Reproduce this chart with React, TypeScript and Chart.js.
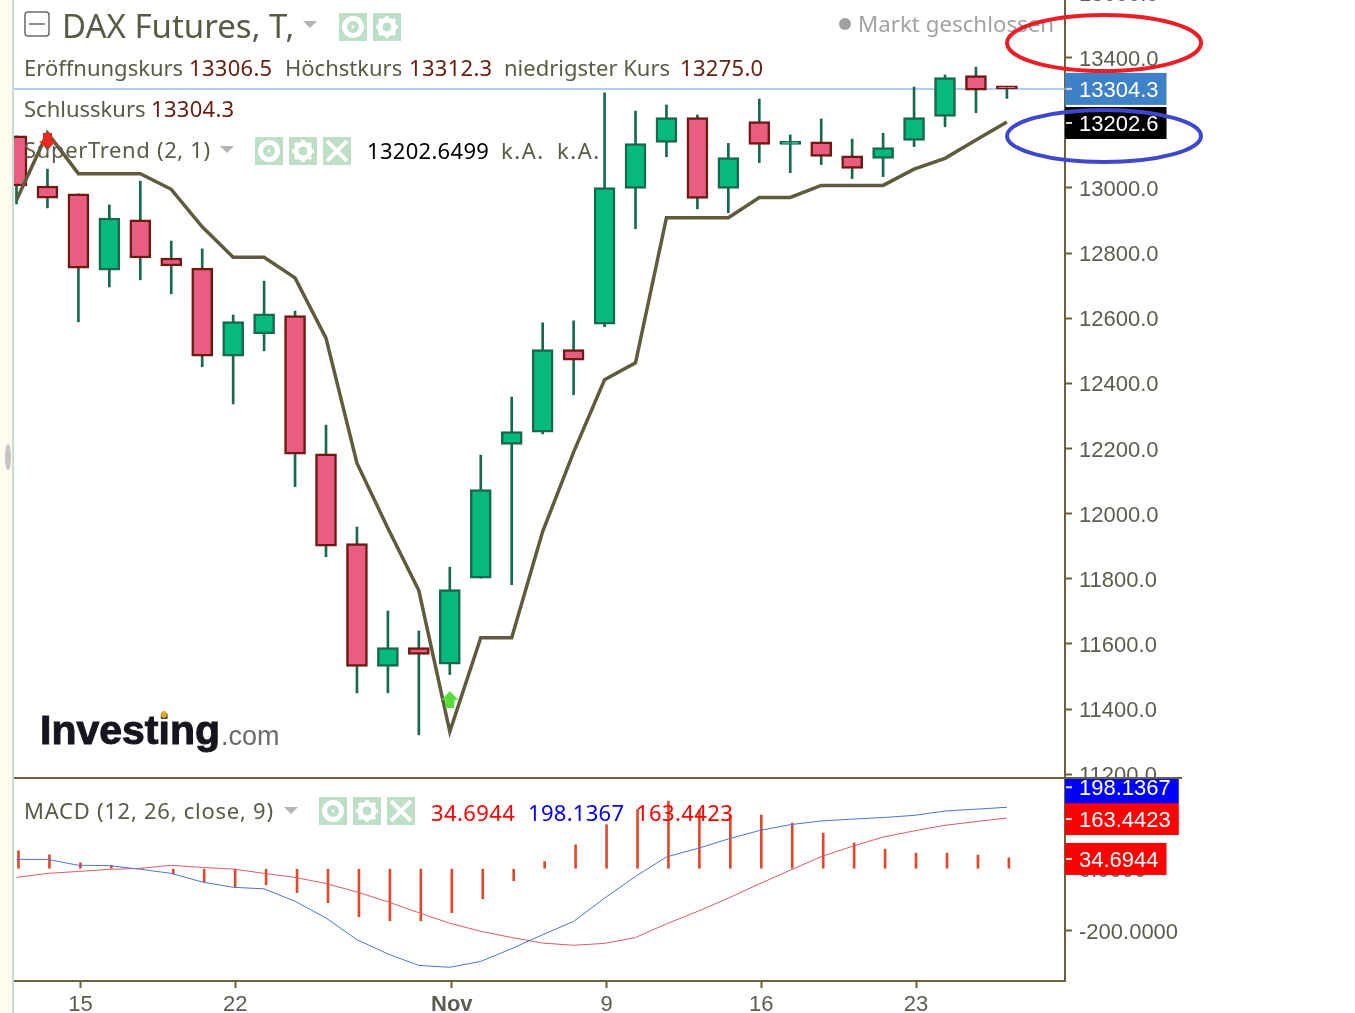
import React, { useEffect, useRef } from "react";
import { Chart, registerables } from "chart.js";

Chart.register(...registerables);

const openPrices = [13160, 13006, 12982, 12748, 12902, 12785, 12754, 12484, 12552, 12608, 12184, 11908, 11531, 11589, 11538, 11802, 12213, 12250, 12504, 12582, 12999, 13140, 13216, 12999, 13204, 13134, 13142, 13099, 13091, 13146, 13220, 13345, 13306.5];
const highPrices = [13160, 13058, 12982, 12948, 13021, 12837, 12813, 12610, 12714, 12622, 12272, 11959, 11701, 11640, 11836, 12180, 12358, 12586, 12592, 13292, 13236, 13255, 13224, 13137, 13273, 13163, 13212, 13150, 13168, 13310, 13347, 13371, 13312.3];
const lowPrices = [12951, 12939, 12589, 12696, 12718, 12675, 12451, 12337, 12500, 12083, 11868, 11450, 11450, 11321, 11506, 11802, 11782, 12245, 12365, 12574, 12875, 13096, 12936, 12924, 13078, 13047, 13072, 13029, 13035, 13127, 13188, 13231, 13275];
const closePrices = [13006, 12969, 12754, 12908, 12785, 12761, 12484, 12590, 12614, 12183, 11900, 11531, 11589, 11568, 11767, 12074, 12252, 12504, 12471, 13001, 13136, 13216, 12968, 13093, 13134, 13142, 13097, 13060, 13124, 13216, 13339, 13300, 13304.3];
const superTrend = [12963, 13169, 13044, 13044, 13044, 12996, 12881, 12787, 12787, 12724, 12539, 12155, 11955, 11764, 11331, 11619, 11619, 11945, 12189, 12411, 12463, 12909, 12909, 12909, 12971, 12971, 13008, 13008, 13008, 13058, 13091, 13147, 13202.6499];
const macdLine = [30, 30, 11, 10, -2, -15, -43, -60, -65, -105, -159, -229, -275, -312, -318, -299, -258, -213, -170, -95, -25, 38, 65, 96, 123, 142, 154, 160, 165, 172, 186, 192, 198.1367];
const signalLine = [-28, -15, -9, -2, 1, 11, 4, -1, -15, -28, -48, -75, -107, -142, -176, -202, -222, -240, -247, -241, -222, -178, -138, -95, -49, -5, 39, 72, 102, 122, 140, 152, 163.4423];
const histogram = [58, 45, 19, 11, 1, -17, -44, -59, -52, -77, -110, -155, -168, -168, -142, -97, -39, 23, 77, 142, 192, 218, 189, 173, 173, 147, 115, 83, 63, 50, 50, 44, 34.6944];
const tickIndex = [2, 7, 14, 19, 24, 29];
const tickLabels = ["15", "22", "Nov", "9", "16", "23"];
const buyMarkerIndex = [14];
const buyMarkerValue = [11428];
const sellMarkerIndex = [1];
const sellMarkerValue = [13141];
const lastClose = 13304.3;

const AXIS = "#69623a";
const TICK_TEXT = "#5c5c50";
const LEGEND = "#5b5b45";
const VALUE = "#6a2010";
const SANS = '"Liberation Sans", Arial, sans-serif';
const UI = '"Noto Sans", sans-serif';

function arrow(color: string, up: boolean) {
  const c = document.createElement("canvas");
  c.width = 17;
  c.height = 18;
  const g = c.getContext("2d")!;
  g.fillStyle = color;
  g.beginPath();
  if (up) {
    g.moveTo(8.5, 0); g.lineTo(17, 9); g.lineTo(13, 9); g.lineTo(13, 17); g.lineTo(4, 17); g.lineTo(4, 9); g.lineTo(0, 9);
  } else {
    g.moveTo(8.5, 17); g.lineTo(17, 8); g.lineTo(13, 8); g.lineTo(13, 0); g.lineTo(4, 0); g.lineTo(4, 8); g.lineTo(0, 8);
  }
  g.closePath();
  g.fill();
  return c;
}

function tagPlugin(id: string, axis: string, tags: { value: number; bg: string; shift: number; text: string }[]) {
  return {
    id,
    afterDraw(chart: any) {
      const s = chart.scales[axis];
      const g = chart.ctx;
      g.save();
      g.font = `22px ${SANS}`;
      g.textBaseline = "middle";
      for (const t of tags) {
        const y = s.getPixelForValue(t.value) + t.shift;
        const w = g.measureText(t.text).width + 22;
        g.fillStyle = t.bg;
        g.fillRect(s.left, y - 16, w, 32);
        g.fillStyle = "#d8d8d8";
        g.fillRect(s.left + 1, y - 1, 6, 2);
        g.fillStyle = "#fff";
        g.textAlign = "left";
        g.fillText(t.text, s.left + 14, y + 2);
      }
      g.restore();
    },
  };
}

const priceLine = {
  id: "priceLine",
  beforeDatasetsDraw(chart: any) {
    const { left, right } = chart.chartArea;
    const y = chart.scales.y.getPixelForValue(lastClose);
    const g = chart.ctx;
    g.save();
    g.strokeStyle = "#93bfe8";
    g.lineWidth = 1.5;
    g.beginPath();
    g.moveTo(left, y);
    g.lineTo(right, y);
    g.stroke();
    g.restore();
  },
};

function yAxis(min: number, max: number, digits: number) {
  return {
    type: "linear",
    position: "right",
    min,
    max,
    border: { display: true, color: AXIS, width: 2 },
    grid: { drawOnChartArea: false, drawTicks: true, tickLength: 7, color: AXIS, tickWidth: 2 },
    ticks: {
      stepSize: 200,
      includeBounds: false,
      autoSkip: false,
      padding: 7,
      color: TICK_TEXT,
      // a blank first line with a 4px line height drops each label 2px below its tick
      font: { family: SANS, size: 22, lineHeight: "4px" },
      callback: (v: any) => ["", Number(v).toFixed(digits)],
    },
    afterFit(s: any) {
      s.width = 290;
      s.paddingTop = 0;
      s.paddingBottom = 0;
    },
  };
}

const Text = ({ x, y, s = 22, c = LEGEND, f = UI, w = 400, ls = 0, t, extra }: any) => (
  <div style={{ position: "absolute", left: x, top: y, transform: "translateY(-50%)", font: `${w} ${s}px ${f}`, color: c, whiteSpace: "nowrap", lineHeight: 1.2, letterSpacing: ls, ...extra }}>{t}</div>
);

const Icon = ({ x, y, kind }: any) => (
  <svg style={{ position: "absolute", left: x, top: y }} width={28} height={28} viewBox="0 0 28 28">
    <rect width={28} height={28} fill="#bcdfc6" />
    {kind === "eye" && (
      <>
        <circle cx={14} cy={14} r={8.5} fill="none" stroke="#fff" strokeWidth={5} />
        <circle cx={14} cy={14} r={1.5} fill="#fff" />
      </>
    )}
    {kind === "gear" && (
      <>
        <circle cx={14} cy={14} r={7} fill="none" stroke="#fff" strokeWidth={5} />
        <path d="M14 3v5M14 20v5M3 14h5M20 14h5M6 6l4 4M18 18l4 4M22 6l-4 4M10 18l-4 4" stroke="#fff" strokeWidth={3.5} />
      </>
    )}
    {kind === "x" && <path d="M4 4L24 24M24 4L4 24" stroke="#fff" strokeWidth={4} />}
  </svg>
);

const Caret = ({ x, y }: any) => (
  <svg style={{ position: "absolute", left: x, top: y }} width={14} height={7}>
    <path d="M0 0H14L7 7Z" fill="#b4b4b8" />
  </svg>
);

export default function App() {
  const topRef = useRef<HTMLCanvasElement>(null);
  const botRef = useRef<HTMLCanvasElement>(null);

  useEffect(() => {
    const idx = closePrices.map((_, i) => i);
    const isUp = (i: number) => closePrices[i] >= openPrices[i];
    const top = new Chart(topRef.current!, {
      type: "bar",
      data: {
        datasets: [
          {
            type: "line",
            data: idx.map((i) => ({ x: i, y: superTrend[i] })),
            borderColor: "#5f5c3e",
            borderWidth: 3.5,
            pointRadius: 0,
            tension: 0,
            order: 1,
          },
          {
            type: "line",
            data: buyMarkerIndex.map((x, i) => ({ x, y: buyMarkerValue[i] })),
            showLine: false,
            pointStyle: arrow("#55dd3c", true),
            order: 0,
          },
          {
            type: "line",
            data: sellMarkerIndex.map((x, i) => ({ x, y: sellMarkerValue[i] })),
            showLine: false,
            pointStyle: arrow("#e8281e", false),
            order: 0,
          },
          {
            data: idx.map((i) => ({ x: i, y: [openPrices[i], closePrices[i]] })),
            grouped: false,
            barThickness: 21,
            borderWidth: 2.5,
            minBarLength: 3,
            borderSkipped: false,
            backgroundColor: idx.map((i) => (isUp(i) ? "#05b97f" : "#e85d80")),
            borderColor: idx.map((i) => (isUp(i) ? "#17694d" : "#6e1a10")),
            order: 2,
          },
          {
            data: idx.map((i) => ({ x: i, y: [lowPrices[i], highPrices[i]] })),
            grouped: false,
            barThickness: 2,
            backgroundColor: "#17694d",
            order: 3,
          },
        ],
      } as any,
      options: {
        responsive: false,
        animation: false,
        devicePixelRatio: 1,
        layout: { autoPadding: false, padding: { left: 14, top: 0, right: 0, bottom: 0 } },
        plugins: { legend: { display: false }, tooltip: { enabled: false } },
        scales: {
          x: { type: "linear", display: false, offset: false, min: -0.0808, max: 33.877 },
          y: yAxis(11188.5, 13638.6, 1),
        },
      } as any,
      plugins: [
        priceLine,
        tagPlugin("priceTags", "y", [
          { value: lastClose, bg: "#3f81c6", shift: 0, text: "13304.3" },
          { value: superTrend[32], bg: "#000", shift: 1, text: "13202.6" },
        ]),
      ],
    } as any);

    const bottom = new Chart(botRef.current!, {
      type: "bar",
      data: {
        datasets: [
          {
            type: "line",
            xAxisID: "x2",
            data: idx.map((i) => ({ x: i, y: macdLine[i] })),
            borderColor: "#4a74d8",
            borderWidth: 1,
            pointRadius: 0,
            tension: 0,
            order: 1,
          },
          {
            type: "line",
            xAxisID: "x2",
            data: idx.map((i) => ({ x: i, y: signalLine[i] })),
            borderColor: "#dd5a6e",
            borderWidth: 1,
            pointRadius: 0,
            tension: 0,
            order: 1,
          },
          {
            data: idx.map((i) => ({ x: i, y: [0, histogram[i]] })),
            grouped: false,
            barThickness: 2,
            backgroundColor: "#e0492c",
            order: 2,
          },
        ],
      } as any,
      options: {
        responsive: false,
        animation: false,
        devicePixelRatio: 1,
        layout: { autoPadding: false, padding: { left: 14, top: 0, right: 0, bottom: 0 } },
        plugins: { legend: { display: false }, tooltip: { enabled: false } },
        scales: {
          x: {
            type: "linear",
            position: "bottom",
            offset: false,
            min: -0.1454,
            max: 33.813,
            border: { display: true, color: AXIS, width: 2 },
            grid: { drawOnChartArea: false, drawTicks: true, tickLength: 7, color: AXIS, tickWidth: 2, offset: false },
            afterBuildTicks(s: any) {
              s.ticks = tickIndex.map((value) => ({ value }));
            },
            ticks: {
              autoSkip: false,
              maxRotation: 0,
              padding: 4,
              color: TICK_TEXT,
              font: (ctx: any) => ({ family: SANS, size: 22, weight: ctx.tick && tickLabels[tickIndex.indexOf(ctx.tick.value)] === "Nov" ? "bold" : "normal" }),
              callback: (v: any) => tickLabels[tickIndex.indexOf(Number(v))],
            },
            afterFit(s: any) {
              s.height = 32;
              s.paddingLeft = 0;
              s.paddingRight = 0;
            },
          },
          x2: { type: "linear", display: false, offset: false, min: -0.0808, max: 33.877 },
          y: yAxis(-362.3, 292.6, 4),
        },
      } as any,
      plugins: [
        tagPlugin("macdTags", "y", [
          { value: histogram[32], bg: "#ff0000", shift: 1, text: "34.6944" },
          { value: signalLine[32], bg: "#ff0000", shift: 1, text: "163.4423" },
          { value: macdLine[32], bg: "#0000ff", shift: -20, text: "198.1367" },
        ]),
      ],
    } as any);

    return () => {
      top.destroy();
      bottom.destroy();
    };
  }, []);

  return (
    <div style={{ position: "fixed", left: 0, top: 0, width: 1355, height: 1013, overflow: "hidden", background: "#fff" }}>
      <canvas ref={topRef} width={1355} height={798} style={{ position: "absolute", left: 0, top: -20, display: "block" }} />
      <canvas ref={botRef} width={1355} height={235} style={{ position: "absolute", left: 0, top: 778, display: "block" }} />

      <div style={{ position: "absolute", left: 0, top: 0, width: 12, height: 1013, background: "#fefcee" }} />
      <div style={{ position: "absolute", left: 12, top: 0, width: 2, height: 1013, background: "#c5dfca" }} />
      <div style={{ position: "absolute", left: 5, top: 444, width: 6, height: 26, borderRadius: "50%", background: "#c4c4c8" }} />
      <div style={{ position: "absolute", left: 14, top: 777, width: 1168, height: 2, background: AXIS }} />

      <svg style={{ position: "absolute", left: 24, top: 11 }} width={26} height={26}>
        <rect x={1} y={1} width={24} height={24} rx={3} fill="none" stroke="#6a6a6a" strokeWidth={1.5} />
        <path d="M5 13H21" stroke="#6a6a6a" strokeWidth={1.5} />
      </svg>
      <Text x={62} y={26} s={33} t="DAX Futures, T," />
      <Caret x={303} y={21} />
      <Icon x={339} y={13} kind="eye" />
      <Icon x={373} y={13} kind="gear" />

      <div style={{ position: "absolute", left: 839, top: 18, width: 12, height: 12, borderRadius: "50%", background: "#a0a0a0" }} />
      <Text x={858} y={24} s={22.3} c="#a3a3a3" t="Markt geschlossen" />

      <Text x={24} y={67} t="Eröffnungskurs" />
      <Text x={189} y={67} c={VALUE} ls={0.3} t="13306.5" />
      <Text x={285} y={67} t="Höchstkurs" />
      <Text x={409} y={67} c={VALUE} ls={0.3} t="13312.3" />
      <Text x={504} y={67} t="niedrigster Kurs" />
      <Text x={680} y={67} c={VALUE} ls={0.3} t="13275.0" />
      <Text x={24} y={108} t="Schlusskurs" />
      <Text x={151} y={108} c={VALUE} ls={0.3} t="13304.3" />

      <Text x={24} y={149} ls={0.65} t="SuperTrend (2, 1)" />
      <Caret x={220} y={146} />
      <Icon x={255} y={137} kind="eye" />
      <Icon x={289} y={137} kind="gear" />
      <Icon x={323} y={137} kind="x" />
      <Text x={367} y={150} c="#000" ls={0.3} t="13202.6499" />
      <Text x={501} y={150} ls={1.5} t="k.A." />
      <Text x={557} y={150} ls={1.5} t="k.A." />

      <Text x={24} y={810} ls={0.74} t="MACD (12, 26, close, 9)" />
      <Caret x={284} y={807} />
      <Icon x={319} y={797} kind="eye" />
      <Icon x={353} y={797} kind="gear" />
      <Icon x={387} y={797} kind="x" />
      <Text x={431} y={812} c="#ff0000" ls={0.4} t="34.6944" />
      <Text x={528} y={812} c="#0000ff" ls={0.3} t="198.1367" />
      <Text x={636} y={812} c="#ff0000" ls={0.4} t="163.4423" />

      <Text x={40} y={731} s={41} w={700} c="#15151f" f={SANS} t="Investing" extra={{ WebkitTextStroke: "1px #15151f" }} />
      <Text x={221} y={736} s={27} c="#6a6a70" f={SANS} t=".com" />
      <div style={{ position: "absolute", left: 161, top: 711, width: 6, height: 7, borderRadius: "50%", background: "#e0a820" }} />

      <svg style={{ position: "absolute", left: 0, top: 0 }} width={1355} height={1013}>
        <ellipse cx={1104} cy={43} rx={97} ry={28} fill="none" stroke="#ee1c25" strokeWidth={4} />
        <ellipse cx={1104} cy={136} rx={97} ry={26} fill="none" stroke="#3f48cc" strokeWidth={4} />
      </svg>
    </div>
  );
}
